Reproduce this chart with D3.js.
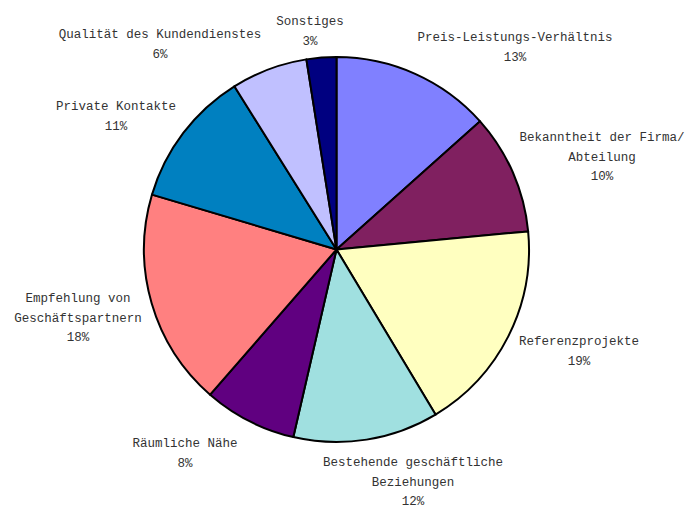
<!DOCTYPE html>
<html>
<head>
<meta charset="utf-8">
<script src="https://cdn.jsdelivr.net/npm/d3@7"></script>
<style>
  html, body { margin: 0; padding: 0; background: #fff; }
  svg { display: block; }
  .lbl { font-family: "Liberation Mono", "DejaVu Sans Mono", monospace; font-size: 12.5px; fill: #333; }
</style>
</head>
<body>
<div id="chart"></div>
<script>
// slices clockwise from 12 o'clock
const categories = [
  "Preis-Leistungs-Verhältnis",
  "Bekanntheit der Firma/\nAbteilung",
  "Referenzprojekte",
  "Bestehende geschäftliche\nBeziehungen",
  "Räumliche Nähe",
  "Empfehlung von\nGeschäftspartnern",
  "Private Kontakte",
  "Qualität des Kundendienstes",
  "Sonstiges"
];
// share of each slice
const shares = [13.4, 10.1, 17.9, 12.2, 7.8, 18.2, 11.5, 6.4, 2.5];
// percentages as printed on the chart
const pctLabels = ["13%", "10%", "19%", "12%", "8%", "18%", "11%", "6%", "3%"];
const colors = ["#8080ff", "#802060", "#ffffc0", "#a0e0e0", "#600080",
                "#ff8080", "#0080c0", "#c0c0ff", "#000080"];

// label anchors: centre x, first baseline y
const labelAt = [[515, 41], [602, 141], [579, 345], [413, 466], [185, 447],
                 [78, 302], [116, 110], [160, 38], [310, 25]];

const W = 687, H = 507;
const cx = 336.5, cy = 249.5, R = 192.5;
const lineH = 19.7;

const svg = d3.select("#chart").append("svg")
  .attr("width", W).attr("height", H);

const pie = d3.pie().sort(null).value(d => d);
const arc = d3.arc().innerRadius(0).outerRadius(R);

const g = svg.append("g").attr("transform", `translate(${cx},${cy})`);
g.selectAll("path")
  .data(pie(shares))
  .join("path")
  .attr("d", arc)
  .attr("fill", (d, i) => colors[i])
  .attr("stroke", "#000")
  .attr("stroke-width", 2)
  .attr("stroke-linejoin", "round");

const labels = svg.append("g").selectAll("text")
  .data(categories)
  .join("text")
  .attr("class", "lbl")
  .attr("text-anchor", "middle")
  .attr("x", (d, i) => labelAt[i][0])
  .attr("y", (d, i) => labelAt[i][1]);

labels.each(function (d, i) {
  const t = d3.select(this);
  const lines = d.split("\n").concat(pctLabels[i]);
  lines.forEach((s, k) => {
    t.append("tspan")
      .attr("x", labelAt[i][0])
      .attr("dy", k === 0 ? 0 : lineH)
      .text(s);
  });
});
</script>
</body>
</html>
